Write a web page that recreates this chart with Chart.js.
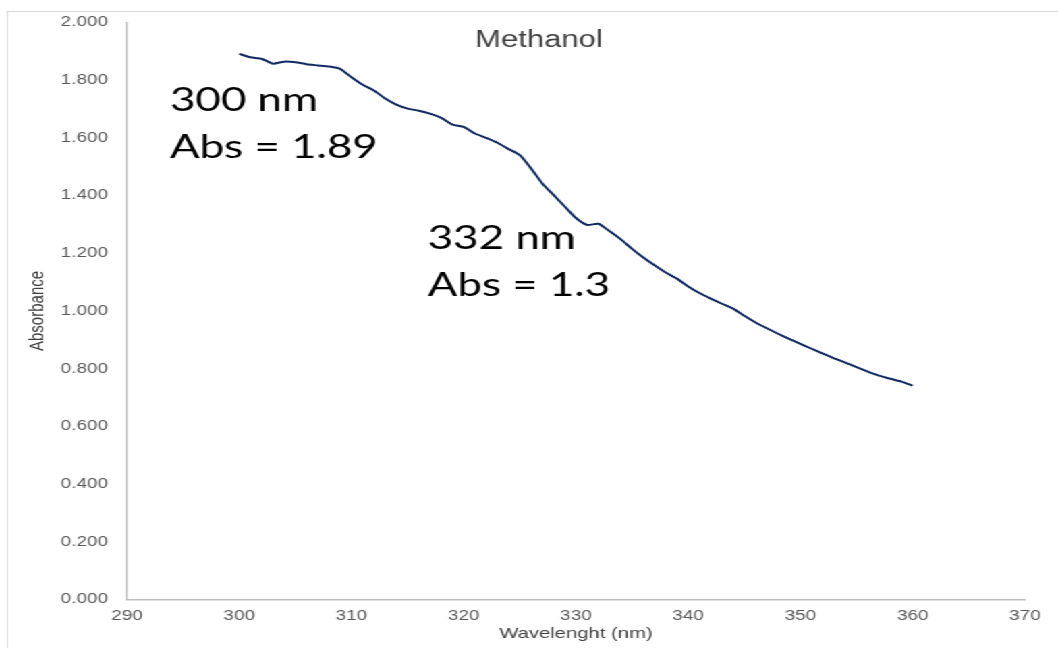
<!DOCTYPE html>
<html>
<head>
<meta charset="utf-8">
<script src="https://cdn.jsdelivr.net/npm/chart.js@4.4.1/dist/chart.umd.min.js"></script>
<style>
  html, body { margin: 0; padding: 0; background: #fff; overflow: hidden; }
  /* the source picture is stretched sideways, so the chart is drawn narrow and widened */
  #frame { position: absolute; left: 0; top: 0; width: 784px; height: 648px; transform: scaleX(1.3495); transform-origin: 0 0; }
  #edge { position: absolute; left: 5px; top: 11px; right: -20px; bottom: -20px; border-top: 1px solid #d9d9d9; border-left: 1px solid #d9d9d9; }
  canvas { position: absolute; left: 0; top: 0; }
</style>
</head>
<body>
<div id="frame">
  <div id="edge"></div>
  <canvas id="chart" width="784" height="648"></canvas>
</div>
<script>
const chartTitle = 'Methanol';
const xTitle = 'Wavelenght (nm)';
const yTitle = 'Absorbance';

const wavelengths = [
  300, 301, 302, 303, 304, 305, 306, 307, 308, 309,
  310, 311, 312, 313, 314, 315, 316, 317, 318, 319,
  320, 321, 322, 323, 324, 325, 326, 327, 328, 329,
  330, 331, 332, 333, 334, 335, 336, 337, 338, 339,
  340, 341, 342, 343, 344, 345, 346, 347, 348, 349,
  350, 351, 352, 353, 354, 355, 356, 357, 358, 359, 360
];
const absorbance = [
  1.891, 1.879, 1.874, 1.857, 1.864, 1.862, 1.855, 1.851, 1.847, 1.839,
  1.810, 1.784, 1.764, 1.736, 1.715, 1.701, 1.694, 1.684, 1.669, 1.646,
  1.638, 1.615, 1.600, 1.583, 1.561, 1.540, 1.494, 1.442, 1.402, 1.362,
  1.322, 1.298, 1.302, 1.276, 1.248, 1.215, 1.185, 1.158, 1.133, 1.112,
  1.085, 1.062, 1.043, 1.025, 1.008, 0.983, 0.960, 0.940, 0.921, 0.903,
  0.886, 0.869, 0.852, 0.836, 0.821, 0.805, 0.790, 0.776, 0.765, 0.755, 0.741
];

const xTickValues = [290, 300, 310, 320, 330, 340, 350, 360, 370];
const yTickValues = [0, 0.2, 0.4, 0.6, 0.8, 1.0, 1.2, 1.4, 1.6, 1.8, 2.0];

const noteLines = [
  ['300 nm', 'Abs = 1.89'],
  ['332 nm', 'Abs = 1.3']
];

const tickFont = { family: '"Liberation Sans", Arial, sans-serif', size: 14 };

// title and the two big notes, placed through the scales
const overlayPlugin = {
  id: 'overlay',
  afterDatasetsDraw(chart) {
    const { ctx, scales: { x, y } } = chart;
    ctx.save();
    ctx.fillStyle = '#404040';
    ctx.font = '23px "Liberation Sans", Arial, sans-serif';
    ctx.textAlign = 'center';
    ctx.textBaseline = 'alphabetic';
    ctx.fillText(chartTitle, x.getPixelForValue(326.7), 47);

    const anchors = [[293.83, 1.693], [316.8, 1.215]];
    ctx.fillStyle = '#000';
    ctx.font = '32.5px Lato, "Open Sans", sans-serif';
    ctx.textAlign = 'left';
    noteLines.forEach((lines, i) => {
      const px = x.getPixelForValue(anchors[i][0]);
      const py = y.getPixelForValue(anchors[i][1]);
      lines.forEach((line, j) => ctx.fillText(line, px, py + j * 47));
    });
    ctx.restore();
  }
};

new Chart(document.getElementById('chart'), {
  type: 'line',
  data: {
    datasets: [{
      data: wavelengths.map((w, i) => ({ x: w, y: absorbance[i] })),
      borderColor: '#112a63',
      borderWidth: 2,
      pointRadius: 0,
      tension: 0.2,
      fill: false
    }]
  },
  options: {
    responsive: false,
    animation: false,
    devicePixelRatio: 1,
    layout: { padding: { left: 0, top: 20.5, right: 24.5, bottom: 0 } },
    plugins: { legend: { display: false }, tooltip: { enabled: false } },
    scales: {
      x: {
        type: 'linear',
        min: 290,
        max: 370,
        afterBuildTicks: (scale) => { scale.ticks = xTickValues.map((v) => ({ value: v })); },
        afterFit: (scale) => { scale.height = 48.5; },
        grid: { display: false, drawTicks: false },
        border: { display: true, color: '#bfbfbf', width: 1.5 },
        ticks: { color: '#595959', font: tickFont, padding: 8, maxRotation: 0 },
        title: {
          display: true,
          text: xTitle,
          color: '#404040',
          font: { family: '"Liberation Sans", Arial, sans-serif', size: 15 },
          padding: { top: 0, bottom: 5 }
        }
      },
      y: {
        type: 'linear',
        min: 0,
        max: 2,
        afterBuildTicks: (scale) => { scale.ticks = yTickValues.map((v) => ({ value: v })); },
        afterFit: (scale) => { scale.width = 94.1; },
        grid: { display: false, drawTicks: false },
        border: { display: true, color: '#bfbfbf', width: 1.5 },
        ticks: {
          color: '#595959',
          font: tickFont,
          padding: 14,
          callback: (v) => Number(v).toFixed(3)
        },
        title: {
          display: true,
          text: yTitle,
          color: '#404040',
          font: { family: '"Liberation Sans Narrow", "Liberation Sans", Arial, sans-serif', size: 15 },
          padding: { top: 19, bottom: 0 }
        }
      }
    }
  },
  plugins: [overlayPlugin]
});
</script>
</body>
</html>
